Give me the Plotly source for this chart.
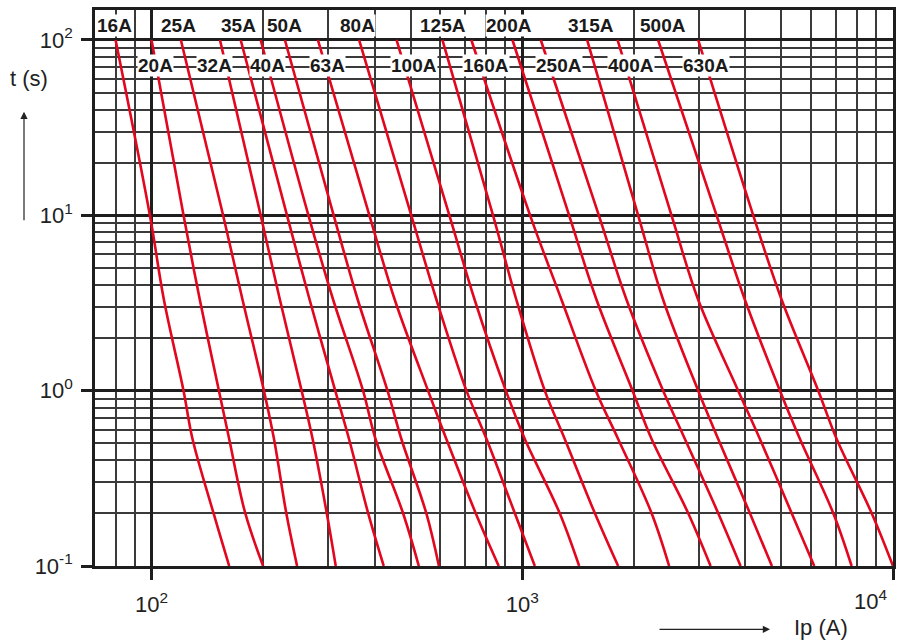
import math
import plotly.graph_objects as go

# ---- data (current in A at fixed melting times in s) ----
times = [100, 10, 3.3, 1, 0.53, 0.2, 0.1]

i_16A = [80, 99, 108, 122, 129, 147, 162]
i_20A = [100, 122, 135, 152, 162, 179, 200]
i_25A = [120, 156, 176, 201, 214, 231, 247]
i_32A = [153, 197, 222, 254, 272, 297, 314]
i_35A = [174, 232, 267, 313, 341, 384, 423]
i_40A = [197, 265, 309, 372, 402, 477, 526]
i_50A = [229, 310, 360, 433, 472, 551, 596]
i_63A = [281, 387, 453, 557, 624, 749, 864]
i_80A = [363, 502, 587, 707, 801, 955, 1081]
i_100A = [458, 636, 744, 903, 1016, 1262, 1424]
i_125A = [609, 834, 964, 1150, 1302, 1570, 1814]
i_160A = [729, 1050, 1276, 1579, 1814, 2233, 2490]
i_200A = [941, 1338, 1586, 1984, 2233, 2803, 3221]
i_250A = [1122, 1609, 1911, 2399, 2746, 3377, 3881]
i_315A = [1496, 2054, 2399, 2982, 3377, 4112, 4714]
i_400A = [1807, 2527, 2982, 3823, 4375, 5330, 6132]
i_500A = [2325, 3343, 3986, 4955, 5611, 6901, 7734]
i_630A = [2982, 4197, 5008, 6286, 7048, 8761, 10000]

fuse_labels = ["16A", "20A", "25A", "32A", "35A", "40A", "50A", "63A", "80A",
               "100A", "125A", "160A", "200A", "250A", "315A", "400A", "500A", "630A"]
fuse_currents = [i_16A, i_20A, i_25A, i_32A, i_35A, i_40A, i_50A, i_63A, i_80A,
                 i_100A, i_125A, i_160A, i_200A, i_250A, i_315A, i_400A, i_500A, i_630A]

x_major = [100, 1000, 10000]
x_major_text = ["10<sup>2</sup>", "10<sup>3</sup>", " "]
x_minor = [80, 90, 200, 300, 400, 500, 600, 700, 800, 900,
           2000, 3000, 4000, 5000, 6000, 7000, 8000, 9000]
y_major = [0.1, 1, 10, 100]
y_major_text = ["10<sup>-1</sup>", "10<sup>0</sup>", "10<sup>1</sup>", "10<sup>2</sup>"]
y_minor = [0.2, 0.3, 0.4, 0.5, 0.6, 0.7, 0.8, 0.9,
           2, 3, 4, 5, 6, 7, 8, 9, 20, 30, 40, 50, 60, 70, 80, 90]

# ---- styling ----
RED = "#e2061f"
INK = "#1e1e1e"
FONT = "Liberation Sans, Arial, sans-serif"
label_shift = [-1, 4, -2, -5, -2, 7, 0, 10, -2, 17, 1, 15, -3, 18, 4, 13, 5, 8]

fig = go.Figure()
for name, cur in zip(fuse_labels, fuse_currents):
    fig.add_trace(go.Scatter(
        x=cur, y=times, mode="lines", name=name,
        line=dict(color=RED, width=2.6, shape="spline", smoothing=1.0),
        hoverinfo="name", showlegend=False))

axis_common = dict(
    type="log", showline=True, mirror=True, linecolor=INK, linewidth=2.6,
    showgrid=True, gridcolor=INK, gridwidth=2.8,
    ticks="outside", ticklen=11, tickwidth=2.6, tickcolor=INK,
    tickfont=dict(family=FONT, size=22, color="#222"),
    zeroline=False, automargin=False,
)

fig.update_xaxes(
    **axis_common,
    range=[math.log10(70.4), 4],
    tickmode="array", tickvals=x_major, ticktext=x_major_text,
    ticklabelstandoff=6,
    minor=dict(tickmode="array", tickvals=x_minor, showgrid=True,
               gridcolor="#3a3a3a", gridwidth=1.6, ticks=""),
)
fig.update_yaxes(
    **axis_common,
    range=[-1, 2.171],
    tickmode="array", tickvals=y_major, ticktext=y_major_text,
    ticklabelstandoff=4,
    minor=dict(tickmode="array", tickvals=y_minor, showgrid=True,
               gridcolor="#3a3a3a", gridwidth=1.6, ticks=""),
)

annotations = []
for k, (name, cur) in enumerate(zip(fuse_labels, fuse_currents)):
    row_y = 0.9721 if k % 2 == 0 else 0.8993
    annotations.append(dict(
        x=math.log10(cur[0]), xref="x", y=row_y, yref="paper",
        xshift=label_shift[k], text="<b>%s</b>" % name, showarrow=False,
        font=dict(family=FONT, size=19, color="#1a1a1a"),
        bgcolor="white", borderpad=0, xanchor="center", yanchor="middle"))

# last x tick label, shifted inside the figure like the reference
annotations.append(dict(
    x=4, xref="x", y=-0.061, yref="paper", text="10<sup>4</sup>",
    showarrow=False, xanchor="right", yanchor="middle", xshift=-4,
    font=dict(family=FONT, size=22, color="#222")))

# axis titles with arrows
annotations += [
    dict(x=-0.0827, y=0.876, xref="paper", yref="paper", text="t (s)",
         xanchor="center", yanchor="middle",
         showarrow=False, font=dict(family=FONT, size=22, color="#222")),
    dict(x=0.9092, y=-0.1106, xref="paper", yref="paper", text="Ip (A)",
         xanchor="center", yanchor="middle",
         showarrow=False, font=dict(family=FONT, size=22, color="#222")),
    dict(x=-0.08897, y=0.8171, xref="paper", yref="paper", text="",
         showarrow=True, ax=0, ay=110, arrowhead=2, arrowsize=1.2,
         arrowwidth=1.2, arrowcolor="#222"),
    dict(x=0.8459, y=-0.1139, xref="paper", yref="paper", text="",
         showarrow=True, ax=-112, ay=0, arrowhead=2, arrowsize=1.2,
         arrowwidth=1.2, arrowcolor="#222"),
]

fig.update_layout(
    width=897, height=642,
    margin=dict(l=95, r=4, t=10, b=76, autoexpand=False),
    paper_bgcolor="white", plot_bgcolor="white",
    annotations=annotations,
    font=dict(family=FONT),
)

fig.write_html(
    "out.html",
    config={"displayModeBar": False},
    post_script="document.body.style.margin='0';document.body.style.overflow='hidden';",
)
